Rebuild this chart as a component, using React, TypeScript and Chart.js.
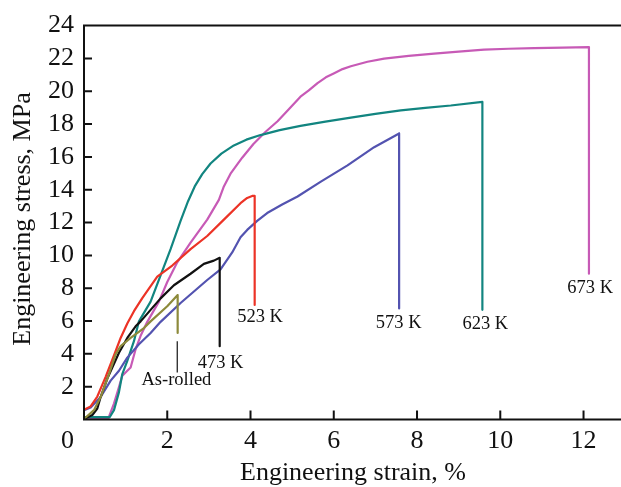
import React, { useEffect, useRef } from "react";
import { Chart, registerables } from "chart.js";

Chart.register(...registerables);

// Engineering strain (%) / engineering stress (MPa) pairs
const asRolled: [number, number][] = [
  [0, 0.03], [0.24, 0.57], [0.4, 1.37], [0.6, 2.77], [0.76, 3.97], [0.88, 4.47],
  [1.12, 4.97], [1.44, 5.57], [1.6, 5.98], [2.0, 6.9], [2.25, 7.58], [2.25, 5.27],
];
const k473: [number, number][] = [
  [0, 0.03], [0.2, 0.27], [0.32, 0.67], [0.4, 1.37], [0.56, 2.49], [0.68, 3.17],
  [0.84, 4.07], [1.04, 4.97], [1.24, 5.68], [1.36, 5.98], [1.84, 7.38], [2.16, 8.18],
  [2.56, 8.88], [2.88, 9.48], [3.12, 9.68], [3.26, 9.85], [3.26, 4.47],
];
const k523: [number, number][] = [
  [0, 0.6], [0.16, 0.8], [0.32, 1.4], [0.52, 2.6], [0.72, 3.9], [0.88, 4.97],
  [1.04, 5.85], [1.2, 6.6], [1.4, 7.4], [1.76, 8.7], [2.12, 9.38], [2.56, 10.38],
  [2.96, 11.18], [3.36, 12.18], [3.76, 13.18], [3.92, 13.5], [4.04, 13.62], [4.1, 13.62],
  [4.1, 6.98],
];
const k573: [number, number][] = [
  [0, 0.57], [0.16, 0.73], [0.4, 1.37], [0.64, 2.37], [0.84, 2.97], [1.04, 3.77],
  [1.32, 4.58], [1.6, 5.27], [1.84, 5.95], [2.32, 7.1], [2.96, 8.5], [3.28, 9.15],
  [3.56, 10.18], [3.76, 11.1], [3.92, 11.55], [4.16, 12.1], [4.4, 12.58], [4.76, 13.1],
  [5.13, 13.59], [5.69, 14.49], [6.33, 15.48], [6.97, 16.59], [7.57, 17.43], [7.57, 6.77],
];
const k623: [number, number][] = [
  [0, 0.15], [0.62, 0.15], [0.72, 0.57], [0.84, 1.67], [0.92, 2.77], [1.04, 3.57],
  [1.2, 4.77], [1.32, 5.98], [1.6, 7.18], [1.84, 8.78], [2.08, 10.38], [2.32, 12.1],
  [2.5, 13.3], [2.66, 14.2], [2.84, 14.95], [3.04, 15.6], [3.3, 16.2], [3.6, 16.7],
  [3.9, 17.05], [4.24, 17.33], [4.7, 17.63], [5.2, 17.89], [5.8, 18.15], [6.41, 18.39],
  [7.0, 18.62], [7.61, 18.83], [8.2, 18.99], [8.81, 19.13], [9.57, 19.35], [9.57, 6.68],
];
const k673: [number, number][] = [
  [0, 0.03], [0.58, 0.03], [0.72, 0.97], [0.84, 1.97], [0.92, 2.67], [1.04, 2.97],
  [1.12, 3.17], [1.24, 4.28], [1.36, 5.1], [1.52, 5.95], [1.8, 7.18], [2.0, 8.38],
  [2.24, 9.58], [2.56, 10.78], [2.96, 12.18], [3.24, 13.38], [3.36, 14.2], [3.52, 14.98],
  [3.8, 15.95], [4.07, 16.79], [4.35, 17.5], [4.65, 18.17], [4.92, 18.9], [5.2, 19.67],
  [5.4, 20.05], [5.61, 20.5], [5.81, 20.85], [6.01, 21.1], [6.21, 21.35], [6.41, 21.52],
  [6.81, 21.8], [7.21, 21.99], [7.8, 22.15], [8.41, 22.29], [9.0, 22.42], [9.61, 22.54],
  [10.2, 22.59], [10.81, 22.63], [11.5, 22.66], [12.13, 22.69], [12.13, 8.88],
];
const asRolledPointer: [number, number][] = [[2.24, 4.77], [2.24, 2.87]];

const seriesNames = ["As-rolled", "473 K", "523 K", "573 K", "623 K", "673 K"];
const seriesColors = ["#8d8a3b", "#111111", "#ec3326", "#5353b0", "#128580", "#c75ab6"];
const seriesData = [asRolled, k473, k523, k573, k623, k673];

// label text, strain, stress (centre of the text)
const labelTexts = ["As-rolled", "473 K", "523 K", "573 K", "623 K", "673 K"];
const labelX = [2.22, 3.28, 4.23, 7.56, 9.64, 12.16];
const labelY = [2.37, 3.41, 6.22, 5.87, 5.8, 8.02];

const xTicks = [2, 4, 6, 8, 10, 12];
const yTicks = [2, 4, 6, 8, 10, 12, 14, 16, 18, 20, 22];
const X_MAX = 12.9;
const Y_MAX = 24;
const FONT = "'Liberation Serif', 'Times New Roman', serif";

const decorPlugin = {
  id: "decor",
  afterDatasetsDraw(chart: any) {
    const { ctx, chartArea, scales } = chart;
    const xs = scales.x;
    const ys = scales.y;
    ctx.save();
    ctx.strokeStyle = "#111";
    ctx.lineWidth = 2;
    ctx.beginPath();
    ctx.moveTo(chartArea.right + 5, chartArea.top);
    ctx.lineTo(chartArea.left, chartArea.top);
    ctx.lineTo(chartArea.left, chartArea.bottom);
    ctx.lineTo(chartArea.right + 5, chartArea.bottom);
    ctx.stroke();
    ctx.beginPath();
    for (const v of yTicks) {
      const p = ys.getPixelForValue(v);
      ctx.moveTo(chartArea.left, p);
      ctx.lineTo(chartArea.left + 8, p);
    }
    for (const v of xTicks) {
      const p = xs.getPixelForValue(v);
      ctx.moveTo(p, chartArea.bottom);
      ctx.lineTo(p, chartArea.bottom - 9);
    }
    ctx.stroke();
    ctx.fillStyle = "#111";
    ctx.font = `26px ${FONT}`;
    ctx.textAlign = "center";
    ctx.textBaseline = "middle";
    ctx.fillText("0", 67.5, 441.5);
    ctx.textBaseline = "alphabetic";
    ctx.fillText("Engineering strain, %", 353, 480);
    ctx.save();
    ctx.translate(30, 219);
    ctx.rotate(-Math.PI / 2);
    ctx.fillText("Engineering stress, MPa", 0, 0);
    ctx.restore();
    ctx.font = `18.5px ${FONT}`;
    ctx.textBaseline = "middle";
    labelTexts.forEach((t, i) => {
      ctx.fillText(t, xs.getPixelForValue(labelX[i]), ys.getPixelForValue(labelY[i]));
    });
    ctx.restore();
  },
};

export default function App() {
  const ref = useRef<HTMLCanvasElement | null>(null);
  useEffect(() => {
    document.body.style.margin = "0";
    if (!ref.current) return;
    const datasets: any[] = seriesData.map((d, i) => ({
      label: seriesNames[i],
      data: d.map(([x, y]) => ({ x, y })),
      borderColor: seriesColors[i],
      borderWidth: 2.2,
      pointRadius: 0,
      tension: 0,
      fill: false,
      borderJoinStyle: "round",
      clip: 6,
    }));
    datasets.push({
      label: "pointer",
      data: asRolledPointer.map(([x, y]) => ({ x, y })),
      borderColor: "#111",
      borderWidth: 1.2,
      pointRadius: 0,
      fill: false,
    });
    const chart = new Chart(ref.current, {
      type: "line",
      data: { datasets },
      options: {
        responsive: false,
        animation: false,
        layout: { padding: { top: 20, right: 0, left: 0, bottom: 0 } },
        plugins: { legend: { display: false }, tooltip: { enabled: false } },
        scales: {
          x: {
            type: "linear",
            min: 0,
            max: X_MAX,
            afterFit: (s: any) => { s.height = 67.5; },
            grid: { display: true, drawOnChartArea: false, drawTicks: false },
            border: { display: false },
            ticks: {
              stepSize: 2,
              includeBounds: false,
              autoSkip: false,
              padding: 6,
              color: "#111",
              font: { family: FONT, size: 26 },
              maxRotation: 0,
              callback: (v: any) => (v === 0 ? "" : String(v)),
            },
          },
          y: {
            type: "linear",
            min: 0,
            max: Y_MAX,
            afterFit: (s: any) => { s.width = 84; },
            grid: { display: true, drawOnChartArea: false, drawTicks: false },
            border: { display: false },
            ticks: {
              stepSize: 2,
              autoSkip: false,
              padding: 10,
              color: "#111",
              font: { family: FONT, size: 26 },
              callback: (v: any) => (v === 0 ? "" : String(v)),
            },
          },
        },
      },
      plugins: [decorPlugin],
    });
    return () => chart.destroy();
  }, []);
  return <canvas ref={ref} width={621} height={487} style={{ display: "block" }} />;
}
